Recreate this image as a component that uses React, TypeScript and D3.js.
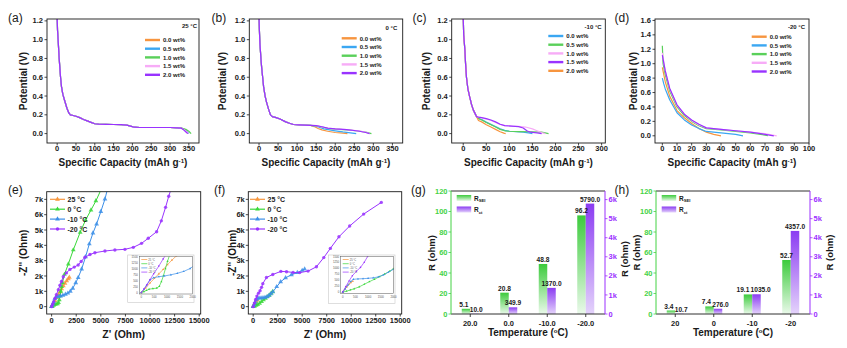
import React from "react";
import * as d3 from "d3";

type P = [number, number];

// ---------------- DATA ----------------
const wtLabels = ["0.0 wt%", "0.5 wt%", "1.0 wt%", "1.5 wt%", "2.0 wt%"];
const tempLabels = ["25 °C", "0 °C", "-10 °C", "-20 °C"];

const potTicks = [0, 0.2, 0.4, 0.6, 0.8, 1.0, 1.2];
const potTicksD = [0, 0.2, 0.4, 0.6, 0.8, 1.0, 1.2, 1.4, 1.6];
const capTicks350 = [0, 50, 100, 150, 200, 250, 300, 350];
const capTicks300 = [0, 50, 100, 150, 200, 250, 300];
const capTicks100 = [0, 10, 20, 30, 40, 50, 60, 70, 80, 90, 100];
const zTicksX = [0, 2500, 5000, 7500, 10000, 12500, 15000];
const zTicksY = [0, 1000, 2000, 3000, 4000, 5000, 6000, 7000];
const insetTicksX = [0, 500, 1000, 1500, 2000];
const insetTicksY = [0, 250, 500, 750, 1000, 1250, 1500];

// (a) 25 °C
const aCommon: P[] = [[0, 1.24], [1, 1.1], [2.7, 0.99], [5, 0.82], [7, 0.71], [9, 0.6], [11.5, 0.5], [15, 0.42], [20, 0.35], [26, 0.27], [31, 0.22], [35, 0.2], [40, 0.195], [50, 0.185], [60, 0.17], [70, 0.15], [80, 0.135], [90, 0.12], [100, 0.105], [110, 0.1], [130, 0.098], [150, 0.097], [170, 0.095], [185, 0.09], [195, 0.08], [205, 0.068], [220, 0.065], [260, 0.065], [300, 0.065], [320, 0.062], [330, 0.058]];
const a00: P[] = [...aCommon, [338, 0.045], [345, 0.02], [348, 0.0]];
const a05: P[] = [...aCommon, [340, 0.04], [347, 0.015], [350, 0.0]];
const a10: P[] = [...aCommon, [342, 0.045], [350, 0.025], [356, 0.0]];
const a15: P[] = [...aCommon, [338, 0.04], [346, 0.015], [349, 0.0]];
const a20: P[] = [...aCommon, [336, 0.04], [343, 0.015], [347, 0.0]];

// (b) 0 °C
const bCommon: P[] = [[0, 1.24], [1, 1.1], [2.5, 0.95], [5, 0.8], [7, 0.7], [9.5, 0.6], [12, 0.5], [16, 0.4], [20, 0.33], [25, 0.26], [30, 0.2], [35, 0.18], [45, 0.17], [55, 0.155], [70, 0.125], [80, 0.11], [90, 0.097], [105, 0.093], [120, 0.09], [135, 0.088]];
const b00: P[] = [...bCommon, [145, 0.075], [155, 0.055], [165, 0.04], [180, 0.025], [200, 0.012], [220, 0.005], [232, 0.0]];
const b05: P[] = [...bCommon, [150, 0.08], [160, 0.065], [170, 0.05], [185, 0.04], [200, 0.03], [220, 0.018], [240, 0.008], [255, 0.0]];
const b10: P[] = [...bCommon, [150, 0.082], [165, 0.07], [180, 0.055], [200, 0.048], [230, 0.04], [260, 0.028], [280, 0.015], [295, 0.0]];
const b15: P[] = [...bCommon, [150, 0.085], [165, 0.072], [180, 0.057], [200, 0.05], [230, 0.042], [260, 0.03], [280, 0.015], [290, 0.0]];
const b20: P[] = [...bCommon, [150, 0.085], [165, 0.073], [180, 0.058], [200, 0.05], [230, 0.042], [260, 0.028], [280, 0.012], [290, 0.0]];

// (c) -10 °C
const cCommon: P[] = [[0, 1.24], [1, 1.05], [3.6, 0.89], [5, 0.75], [7, 0.6], [10, 0.48], [14, 0.39], [18, 0.31], [22, 0.25], [26, 0.21], [29, 0.18]];
const c00: P[] = [...cCommon, [33, 0.165], [40, 0.15], [50, 0.122], [60, 0.098], [70, 0.075], [80, 0.05], [90, 0.035], [100, 0.025], [115, 0.02], [130, 0.015], [145, 0.005], [150, 0.0]];
const c05: P[] = [...cCommon, [33, 0.16], [40, 0.145], [50, 0.118], [60, 0.094], [70, 0.07], [80, 0.045], [90, 0.03], [100, 0.025], [120, 0.022], [150, 0.02], [170, 0.015], [185, 0.0]];
const c10: P[] = [...cCommon, [33, 0.175], [40, 0.168], [50, 0.155], [60, 0.14], [70, 0.12], [80, 0.098], [90, 0.085], [105, 0.08], [120, 0.077], [135, 0.07], [150, 0.05], [160, 0.03], [170, 0.01], [178, 0.0]];
const c15: P[] = [...cCommon, [33, 0.175], [40, 0.17], [50, 0.16], [60, 0.145], [70, 0.125], [80, 0.1], [90, 0.085], [105, 0.08], [120, 0.075], [130, 0.06], [138, 0.03], [145, 0.015], [160, 0.008], [170, 0.0]];
const c20: P[] = [...cCommon, [33, 0.14], [40, 0.125], [50, 0.095], [60, 0.07], [70, 0.045], [80, 0.02], [88, 0.005], [92, 0.0]];

// (d) -20 °C
const d00: P[] = [[0, 0.95], [1, 0.85], [2, 0.75], [5, 0.55], [10, 0.35], [15, 0.25], [20, 0.17], [25, 0.1], [30, 0.05], [35, 0.02], [40, 0.0]];
const d05: P[] = [[0, 0.8], [1, 0.72], [2, 0.65], [5, 0.5], [10, 0.32], [15, 0.22], [20, 0.15], [25, 0.1], [30, 0.06], [40, 0.04], [50, 0.02], [55, 0.0]];
const d10: P[] = [[0, 1.25], [0.5, 1.0], [2, 0.85], [5, 0.62], [10, 0.4], [15, 0.28], [20, 0.2], [25, 0.14], [30, 0.1], [40, 0.08], [50, 0.06], [60, 0.04], [70, 0.01], [72, 0.0]];
const d15: P[] = [[0, 1.15], [2, 0.9], [5, 0.65], [10, 0.42], [15, 0.3], [20, 0.21], [25, 0.15], [30, 0.11], [40, 0.09], [50, 0.07], [60, 0.05], [70, 0.03], [78, 0.0]];
const d20: P[] = [[0, 1.12], [2, 0.9], [5, 0.66], [10, 0.43], [15, 0.3], [20, 0.22], [25, 0.16], [30, 0.11], [40, 0.09], [50, 0.07], [60, 0.05], [70, 0.02], [76, 0.0]];

// (e) EIS
const e25: P[] = [[0, 0], [170, 190], [340, 400], [510, 590], [680, 780], [850, 960], [1020, 1160], [1190, 1350], [1360, 1520], [1530, 1680], [1700, 1820], [1800, 1910]];
const e0: P[] = [[0, 0], [100, 40], [200, 90], [300, 140], [450, 165], [600, 185], [700, 260], [780, 450], [860, 700], [940, 1000], [1020, 1300], [1100, 1560], [1300, 2100], [1700, 2780], [2200, 3700], [2900, 4850], [3450, 5650], [4000, 6300], [4500, 6900], [5000, 7600]];
const e10: P[] = [[0, 0], [100, 140], [200, 290], [330, 520], [480, 620], [680, 660], [900, 690], [1150, 740], [1400, 800], [1650, 880], [1900, 1000], [2150, 1200], [2450, 1550], [2700, 1900], [3050, 2450], [3450, 3250], [3830, 4090], [4200, 4800], [4570, 5390], [5000, 6200], [5420, 7020], [5650, 7600]];
const e20: P[] = [[0, 0], [110, 160], [220, 330], [340, 540], [480, 780], [680, 1100], [850, 1400], [1000, 1640], [1185, 1950], [1500, 2200], [1860, 2430], [2300, 2580], [2700, 2720], [3000, 2950], [3390, 3220], [3900, 3400], [4400, 3520], [5420, 3630], [6430, 3700], [7450, 3740], [8300, 3870], [9140, 4130], [9820, 4460], [10670, 4890], [11150, 5600], [11580, 6480], [11900, 7200], [12150, 7700]];

// (f) EIS
const f25: P[] = [[0, 0], [80, 110], [160, 220], [240, 320], [320, 400], [400, 460]];
const f0: P[] = [[0, 0], [150, 40], [300, 90], [450, 140], [650, 220], [850, 330], [1050, 440], [1250, 540], [1450, 650], [1650, 760], [1850, 880], [2000, 990]];
const f10: P[] = [[0, 0], [100, 140], [200, 290], [320, 450], [420, 540], [600, 555], [800, 565], [1000, 580], [1200, 600], [1400, 640], [1600, 720], [1800, 840], [2000, 960], [2400, 1300], [2800, 1620], [3300, 1880], [3900, 2080], [4500, 2220], [5000, 2360], [5250, 2450]];
const f20: P[] = [[0, 0], [120, 230], [250, 470], [380, 690], [540, 880], [700, 1040], [850, 1260], [980, 1500], [1350, 1900], [2000, 2100], [2820, 2300], [3400, 2280], [4070, 2230], [4750, 2220], [5600, 2320], [6450, 2600], [7200, 3200], [7870, 3800], [8750, 4560], [9840, 5260], [11270, 6040], [13070, 6800]];

// (g)/(h) bars
const gCategories = ["20.0", "0.0", "-10.0", "-20.0"];
const gRsei = [5.1, 20.8, 48.8, 96.2];
const gRct = [10.0, 349.9, 1370.0, 5790.0];
const hCategories = ["20", "0", "-10", "-20"];
const hRsei = [3.4, 7.4, 19.1, 52.7];
const hRct = [10.7, 276.0, 1035.0, 4357.0];
const rTicksLeft = [0, 20, 40, 60, 80, 100, 120];
const rTicksRight = [0, 1000, 2000, 3000, 4000, 5000, 6000];

// ---------------- STYLE ----------------
const FONT = "'Liberation Sans', Arial, Helvetica, sans-serif";
const INK = "#1a1a1a";
const ORANGE = "#F7953F";
const BLUE = "#3BA7F2";
const GREEN = "#5AD05A";
const PINK = "#F7ACF7";
const PURPLE = "#9933FF";
const E_ORANGE = "#F7963D";
const E_GREEN = "#39D839";
const E_BLUE = "#3C8FE8";
const E_PURPLE = "#9933FF";
const AX_GREEN = "#45D245";
const AX_PURPLE = "#9B30FF";
const TITLE = 10;

type Series = { data: P[]; color: string; label: string };
type Box = { x0: number; x1: number; y0: number; y1: number };

function CapPanel(p: {
  id: string; box: Box; xDom: [number, number]; yDom: [number, number];
  xTicks: number[]; yTicks: number[]; series: Series[]; order: number[];
  temp: string; tempX: number; tempY: number; legX: number; legY: number;
  tag: string; tagX: number; tagY: number; yTitleX: number;
}) {
  const { x0, x1, y0, y1 } = p.box;
  const xs = d3.scaleLinear().domain(p.xDom).range([x0, x1]);
  const ys = d3.scaleLinear().domain(p.yDom).range([y1, y0]);
  const line = d3.line<P>().x(d => xs(d[0])).y(d => ys(d[1]));
  const cx = (x0 + x1) / 2, cy = (y0 + y1) / 2;
  return (
    <g>
      <defs><clipPath id={p.id}><rect x={x0} y={y0} width={x1 - x0} height={y1 - y0} /></clipPath></defs>
      <g clipPath={`url(#${p.id})`}>
        {p.order.map(i => (
          <path key={i} d={line(p.series[i].data) || ""} fill="none" stroke={p.series[i].color} strokeWidth={1.2} strokeLinejoin="round" />
        ))}
      </g>
      <rect x={x0} y={y0} width={x1 - x0} height={y1 - y0} fill="none" stroke={INK} strokeWidth={0.9} />
      {p.yTicks.map(t => (
        <g key={"y" + t}>
          <line x1={x0} x2={x0 - 2.5} y1={ys(t)} y2={ys(t)} stroke={INK} strokeWidth={0.8} />
          <text x={x0 - 4} y={ys(t) + 2.6} textAnchor="end" fontSize={7.5} fontWeight="bold" fill={INK}>{d3.format(".1f")(t)}</text>
        </g>
      ))}
      {p.xTicks.map(t => (
        <g key={"x" + t}>
          <line x1={xs(t)} x2={xs(t)} y1={y1} y2={y1 + 2.5} stroke={INK} strokeWidth={0.8} />
          <text x={xs(t)} y={y1 + 8} textAnchor="middle" fontSize={7.5} fontWeight="bold" fill={INK}>{t}</text>
        </g>
      ))}
      <text x={cx} y={y1 + 23} textAnchor="middle" fontSize={TITLE} fontWeight="bold" fill={INK}>
        Specific Capacity (mAh g<tspan dy={-3.4} fontSize={6.2}>-1</tspan><tspan dy={3.4}>)</tspan>
      </text>
      <text transform={`translate(${p.yTitleX},${cy}) rotate(-90)`} textAnchor="middle" dy="0.36em" fontSize={TITLE} fontWeight="bold" fill={INK}>Potential (V)</text>
      <text x={p.tempX} y={p.tempY} textAnchor="end" fontSize={6} fontWeight="bold" fill={INK}>{p.temp}</text>
      {p.series.map((s, i) => (
        <g key={"l" + i}>
          <line x1={p.legX} x2={p.legX + 15} y1={p.legY + i * 8.7} y2={p.legY + i * 8.7} stroke={s.color} strokeWidth={2.4} />
          <text x={p.legX + 18} y={p.legY + i * 8.7 + 2.2} fontSize={6} fontWeight="bold" fill={INK}>{s.label}</text>
        </g>
      ))}
      <text x={p.tagX} y={p.tagY} fontSize={12} fill={INK}>{p.tag}</text>
    </g>
  );
}

const symTri = d3.symbol().type(d3.symbolTriangle).size(10)() || "";
const symCirc = d3.symbol().type(d3.symbolCircle).size(9)() || "";
const symTriS = d3.symbol().type(d3.symbolTriangle).size(2)() || "";
const symCircS = d3.symbol().type(d3.symbolCircle).size(2)() || "";

function Inset(p: { id: string; border: { x: number; y: number; w: number; h: number }; box: Box; series: Series[] }) {
  const { x0, x1, y0, y1 } = p.box;
  const xs = d3.scaleLinear().domain([-80, 2000]).range([x0, x1]);
  const ys = d3.scaleLinear().domain([-60, 1500]).range([y1, y0]);
  const line = d3.line<P>().x(d => xs(d[0])).y(d => ys(d[1]));
  return (
    <g>
      <rect x={p.border.x} y={p.border.y} width={p.border.w} height={p.border.h} fill="#fff" stroke="#c8c8c8" strokeWidth={0.6} />
      <defs><clipPath id={p.id}><rect x={x0} y={y0} width={x1 - x0} height={y1 - y0} /></clipPath></defs>
      <g clipPath={`url(#${p.id})`}>
        {p.series.map((s, i) => (
          <g key={i}>
            <path d={line(s.data) || ""} fill="none" stroke={s.color} strokeWidth={0.7} />
            {s.data.map((d, j) => (
              <path key={j} d={i === 3 ? symCircS : symTriS} transform={`translate(${xs(d[0])},${ys(d[1])})`} fill={s.color} />
            ))}
          </g>
        ))}
      </g>
      <rect x={x0} y={y0} width={x1 - x0} height={y1 - y0} fill="none" stroke="#555" strokeWidth={0.5} />
      {insetTicksY.map(t => (
        <text key={"iy" + t} x={x0 - 1.5} y={ys(t) + 1} textAnchor="end" fontSize={2.8} fill="#555">{t}</text>
      ))}
      {insetTicksX.map(t => (
        <text key={"ix" + t} x={xs(t)} y={y1 + 4} textAnchor="middle" fontSize={2.8} fill="#555">{t}</text>
      ))}
      {p.series.map((s, i) => (
        <g key={"il" + i}>
          <line x1={x0 + 2} x2={x0 + 8} y1={y0 + 3 + i * 4.2} y2={y0 + 3 + i * 4.2} stroke={s.color} strokeWidth={0.7} />
          <text x={x0 + 9} y={y0 + 4 + i * 4.2} fontSize={2.6} fill="#555">{s.label}</text>
        </g>
      ))}
    </g>
  );
}

function EisPanel(p: {
  id: string; box: Box; series: Series[]; tag: string; tagX: number; tagY: number;
  yTitleX: number; legX: number; legY: number;
  inset: { border: { x: number; y: number; w: number; h: number }; box: Box };
}) {
  const { x0, x1, y0, y1 } = p.box;
  const xs = d3.scaleLinear().domain([-500, 15150]).range([x0, x1]);
  const ys = d3.scaleLinear().domain([-480, 7500]).range([y1, y0]);
  const line = d3.line<P>().x(d => xs(d[0])).y(d => ys(d[1]));
  const cx = (x0 + x1) / 2, cy = (y0 + y1) / 2;
  return (
    <g>
      <defs><clipPath id={p.id}><rect x={x0} y={y0} width={x1 - x0} height={y1 - y0} /></clipPath></defs>
      <g clipPath={`url(#${p.id})`}>
        {p.series.map((s, i) => (
          <g key={i}>
            <path d={line(s.data) || ""} fill="none" stroke={s.color} strokeWidth={1} />
            {s.data.map((d, j) => (
              <path key={j} d={i === 3 ? symCirc : symTri} transform={`translate(${xs(d[0])},${ys(d[1])})`} fill={s.color} fillOpacity={0.85} />
            ))}
          </g>
        ))}
      </g>
      <rect x={x0} y={y0} width={x1 - x0} height={y1 - y0} fill="none" stroke={INK} strokeWidth={0.9} />
      {zTicksY.map(t => (
        <g key={"y" + t}>
          <line x1={x0} x2={x0 - 2.5} y1={ys(t)} y2={ys(t)} stroke={INK} strokeWidth={0.8} />
          <text x={x0 - 3.5} y={ys(t) + 2.6} textAnchor="end" fontSize={7.5} fontWeight="bold" fill={INK}>{t === 0 ? "0" : t / 1000 + "k"}</text>
        </g>
      ))}
      {zTicksX.map(t => (
        <g key={"x" + t}>
          <line x1={xs(t)} x2={xs(t)} y1={y1} y2={y1 + 2.5} stroke={INK} strokeWidth={0.8} />
          <text x={xs(t)} y={y1 + 8.5} textAnchor="middle" fontSize={7.5} fontWeight="bold" fill={INK}>{t}</text>
        </g>
      ))}
      <text x={cx} y={y1 + 23.5} textAnchor="middle" fontSize={10.5} fontWeight="bold" fill={INK}>Z' (Ohm)</text>
      <text transform={`translate(${p.yTitleX},${cy}) rotate(-90)`} textAnchor="middle" dy="0.36em" fontSize={TITLE} fontWeight="bold" fill={INK}>-Z'' (Ohm)</text>
      {p.series.map((s, i) => (
        <g key={"l" + i}>
          <line x1={p.legX} x2={p.legX + 15} y1={p.legY + i * 9.9} y2={p.legY + i * 9.9} stroke={s.color} strokeWidth={1.2} />
          <path d={i === 3 ? symCirc : symTri} transform={`translate(${p.legX + 7.5},${p.legY + i * 9.9})`} fill={s.color} />
          <text x={p.legX + 17.5} y={p.legY + i * 9.9 + 2.5} fontSize={7} fontWeight="bold" fill={INK}>{s.label}</text>
        </g>
      ))}
      <Inset id={p.id + "in"} border={p.inset.border} box={p.inset.box} series={p.series} />
      <text x={p.tagX} y={p.tagY} fontSize={12} fill={INK}>{p.tag}</text>
    </g>
  );
}

function BarPanel(p: {
  id: string; box: Box; cats: string[]; rsei: number[]; rct: number[];
  tag: string; tagX: number; tagY: number;
  leftTitleX: number; leftTitleY: number; rightTitleX: number; rightTitleY: number;
}) {
  const { x0, x1, y0, y1 } = p.box;
  const band = d3.scaleBand<string>().domain(p.cats).range([x0, x1]).padding(0);
  const yl = d3.scaleLinear().domain([0, 120]).range([y1, y0]);
  const yr = d3.scaleLinear().domain([0, 6450]).range([y1, y0]);
  const bw = 8.5;
  const c = (k: string) => (band(k) || 0) + band.bandwidth() / 2;
  const f1 = d3.format(".1f");
  const VF = 6.6;
  const tw = (s: string) => s.length * 0.556 * VF - (s.includes(".") ? 0.278 * VF : 0);
  return (
    <g>
      <defs>
        <linearGradient id={p.id + "gG"} x1="0" y1="0" x2="0" y2="1">
          <stop offset="0" stopColor="#3CCB3C" />
          <stop offset="1" stopColor="#EAF9EA" />
        </linearGradient>
        <linearGradient id={p.id + "gP"} x1="0" y1="0" x2="0" y2="1">
          <stop offset="0" stopColor="#8B3CF2" />
          <stop offset="1" stopColor="#E4D3FB" />
        </linearGradient>
      </defs>
      {p.cats.map((k, i) => (
        <g key={k}>
          <rect x={c(k) - bw} y={yl(p.rsei[i])} width={bw} height={y1 - yl(p.rsei[i])} fill={`url(#${p.id}gG)`} />
          <rect x={c(k)} y={yr(p.rct[i])} width={bw} height={y1 - yr(p.rct[i])} fill={`url(#${p.id}gP)`} />
        </g>
      ))}
      {p.cats.map((k, i) => {
        const sg = f1(p.rsei[i]);
        const sp = f1(p.rct[i]);
        const yg = yl(p.rsei[i]) - 2;
        const yp = yr(p.rct[i]) - 2;
        let gx = c(k) - bw / 2;
        let px = c(k) + bw / 2;
        const close = Math.abs(yg - yp) < 6;
        const overlap = gx + tw(sg) / 2 > px - tw(sp) / 2 - 0.8;
        if (close && overlap) {
          const need = (gx + tw(sg) / 2) - (px - tw(sp) / 2) + 1.2;
          gx -= need * 0.55;
          px += need * 0.45;
        }
        return (
          <g key={"v" + k}>
            <text x={gx} y={yg} textAnchor="middle" fontSize={VF} fontWeight="bold" fill={INK}>{sg}</text>
            <text x={px} y={yp} textAnchor="middle" fontSize={VF} fontWeight="bold" fill={INK}>{sp}</text>
          </g>
        );
      })}
      <line x1={x0} x2={x1} y1={y0} y2={y0} stroke={INK} strokeWidth={0.9} />
      <line x1={x0} x2={x1} y1={y1} y2={y1} stroke={INK} strokeWidth={0.9} />
      <line x1={x0} x2={x0} y1={y0} y2={y1} stroke={AX_GREEN} strokeWidth={1} />
      <line x1={x1} x2={x1} y1={y0} y2={y1} stroke={AX_PURPLE} strokeWidth={1} />
      {rTicksLeft.map(t => (
        <g key={"l" + t}>
          <line x1={x0} x2={x0 - 2.5} y1={yl(t)} y2={yl(t)} stroke={AX_GREEN} strokeWidth={0.8} />
          <text x={x0 - 3.5} y={yl(t) + 2.6} textAnchor="end" fontSize={7.5} fontWeight="bold" fill={AX_GREEN}>{t}</text>
        </g>
      ))}
      {rTicksRight.map(t => (
        <g key={"r" + t}>
          <line x1={x1} x2={x1 + 2.5} y1={yr(t)} y2={yr(t)} stroke={AX_PURPLE} strokeWidth={0.8} />
          <text x={x1 + 3.5} y={yr(t) + 2.6} textAnchor="start" fontSize={7.5} fontWeight="bold" fill={AX_PURPLE}>{t === 0 ? "0" : t / 1000 + "k"}</text>
        </g>
      ))}
      {p.cats.map(k => (
        <g key={"x" + k}>
          <line x1={c(k)} x2={c(k)} y1={y1} y2={y1 + 3} stroke={INK} strokeWidth={0.8} />
          <text x={c(k)} y={y1 + 12} textAnchor="middle" fontSize={7.5} fontWeight="bold" fill={INK}>{k}</text>
        </g>
      ))}
      <text x={(x0 + x1) / 2} y={y1 + 22} textAnchor="middle" fontSize={TITLE} fontWeight="bold" fill={INK}>
        Temperature (<tspan dy={-3} fontSize={6}>o</tspan><tspan dy={3}>C)</tspan>
      </text>
      <text transform={`translate(${p.leftTitleX},${p.leftTitleY}) rotate(-90)`} textAnchor="middle" dy="0.36em" fontSize={9.5} fontWeight="bold" fill={INK}>R (ohm)</text>
      <text transform={`translate(${p.rightTitleX},${p.rightTitleY}) rotate(-90)`} textAnchor="middle" dy="0.36em" fontSize={9.5} fontWeight="bold" fill={INK}>R (ohm)</text>
      <rect x={x0 + 5.7} y={y0 + 4} width={14.5} height={6} fill={`url(#${p.id}gG)`} />
      <rect x={x0 + 5.7} y={y0 + 15.5} width={14.5} height={6} fill={`url(#${p.id}gP)`} />
      <text x={x0 + 23} y={y0 + 9.5} fontSize={6.5} fontWeight="bold" fill={INK}>R<tspan dy={1.5} fontSize={4.2}>SEI</tspan></text>
      <text x={x0 + 23} y={y0 + 21} fontSize={6.5} fontWeight="bold" fill={INK}>R<tspan dy={1.5} fontSize={4.2}>ct</tspan></text>
      <text x={p.tagX} y={p.tagY} fontSize={12} fill={INK}>{p.tag}</text>
    </g>
  );
}

export default function App() {
  const sA: Series[] = [
    { data: a00, color: ORANGE, label: wtLabels[0] },
    { data: a05, color: BLUE, label: wtLabels[1] },
    { data: a10, color: GREEN, label: wtLabels[2] },
    { data: a15, color: PINK, label: wtLabels[3] },
    { data: a20, color: PURPLE, label: wtLabels[4] },
  ];
  const sB: Series[] = [
    { data: b00, color: ORANGE, label: wtLabels[0] },
    { data: b05, color: BLUE, label: wtLabels[1] },
    { data: b10, color: GREEN, label: wtLabels[2] },
    { data: b15, color: PINK, label: wtLabels[3] },
    { data: b20, color: PURPLE, label: wtLabels[4] },
  ];
  const sC: Series[] = [
    { data: c00, color: BLUE, label: wtLabels[0] },
    { data: c05, color: GREEN, label: wtLabels[1] },
    { data: c10, color: PINK, label: wtLabels[2] },
    { data: c15, color: PURPLE, label: wtLabels[3] },
    { data: c20, color: ORANGE, label: wtLabels[4] },
  ];
  const sD: Series[] = [
    { data: d00, color: ORANGE, label: wtLabels[0] },
    { data: d05, color: BLUE, label: wtLabels[1] },
    { data: d10, color: GREEN, label: wtLabels[2] },
    { data: d15, color: PINK, label: wtLabels[3] },
    { data: d20, color: PURPLE, label: wtLabels[4] },
  ];
  const sE: Series[] = [
    { data: e25, color: E_ORANGE, label: tempLabels[0] },
    { data: e0, color: E_GREEN, label: tempLabels[1] },
    { data: e10, color: E_BLUE, label: tempLabels[2] },
    { data: e20, color: E_PURPLE, label: tempLabels[3] },
  ];
  const sF: Series[] = [
    { data: f25, color: E_ORANGE, label: tempLabels[0] },
    { data: f0, color: E_GREEN, label: tempLabels[1] },
    { data: f10, color: E_BLUE, label: tempLabels[2] },
    { data: f20, color: E_PURPLE, label: tempLabels[3] },
  ];
  return (
    <svg width={847} height={348} viewBox="0 0 847 348" style={{ position: "absolute", left: 0, top: 0, background: "#fff" }} fontFamily={FONT}>
      <rect width={847} height={348} fill="#fff" />
      <CapPanel id="ca" box={{ x0: 47, x1: 199, y0: 19, y1: 143 }} xDom={[-27, 377]} yDom={[-0.1, 1.22]}
        xTicks={capTicks350} yTicks={potTicks} series={sA} order={[0, 1, 2, 3, 4]}
        temp="25 °C" tempX={197} tempY={28} legX={145} legY={40} tag="(a)" tagX={8} tagY={22} yTitleX={23} />
      <CapPanel id="cb" box={{ x0: 249.3, x1: 402.7, y0: 19, y1: 143 }} xDom={[-25.5, 377]} yDom={[-0.1, 1.22]}
        xTicks={capTicks350} yTicks={potTicks} series={sB} order={[0, 1, 2, 3, 4]}
        temp="0 °C" tempX={397.3} tempY={29.5} legX={341.7} legY={38.3} tag="(b)" tagX={211.5} tagY={22} yTitleX={222} />
      <CapPanel id="cc" box={{ x0: 451.7, x1: 605.3, y0: 19, y1: 143 }} xDom={[-25, 308]} yDom={[-0.1, 1.22]}
        xTicks={capTicks300} yTicks={potTicks} series={sC} order={[0, 1, 4, 2, 3]}
        temp="-10 °C" tempX={601.7} tempY={29} legX={548.3} legY={36} tag="(c)" tagX={412.5} tagY={22} yTitleX={426.5} />
      <CapPanel id="cd" box={{ x0: 655, x1: 809, y0: 19, y1: 143 }} xDom={[-5, 100]} yDom={[-0.1, 1.62]}
        xTicks={capTicks100} yTicks={potTicksD} series={sD} order={[0, 1, 2, 3, 4]}
        temp="-20 °C" tempX={805} tempY={28.7} legX={751.7} legY={36.7} tag="(d)" tagX={614.5} tagY={22} yTitleX={633} />

      <EisPanel id="ee" box={{ x0: 46.7, x1: 200.7, y0: 191.7, y1: 314 }} series={sE} tag="(e)" tagX={8} tagY={193.5}
        yTitleX={23.3} legX={50} legY={199.3}
        inset={{ border: { x: 127.7, y: 255, w: 66.3, h: 47.6 }, box: { x0: 139.3, x1: 192.7, y0: 256.5, y1: 294 } }} />
      <EisPanel id="ef" box={{ x0: 248.3, x1: 401.7, y0: 191.7, y1: 314 }} series={sF} tag="(f)" tagX={214} tagY={193.5}
        yTitleX={232.5} legX={250} legY={199.3}
        inset={{ border: { x: 328.3, y: 255, w: 66.7, h: 48.3 }, box: { x0: 340.7, x1: 393.5, y0: 256.5, y1: 293.5 } }} />

      <BarPanel id="bg" box={{ x0: 451, x1: 605, y0: 191, y1: 314 }} cats={gCategories} rsei={gRsei} rct={gRct}
        tag="(g)" tagX={411} tagY={193.5} leftTitleX={431.7} leftTitleY={253} rightTitleX={624.7} rightTitleY={259} />
      <BarPanel id="bh" box={{ x0: 656, x1: 810, y0: 191, y1: 314 }} cats={hCategories} rsei={hRsei} rct={hRct}
        tag="(h)" tagX={614.5} tagY={193.5} leftTitleX={636.3} leftTitleY={252.5} rightTitleX={830} rightTitleY={252.5} />
    </svg>
  );
}
